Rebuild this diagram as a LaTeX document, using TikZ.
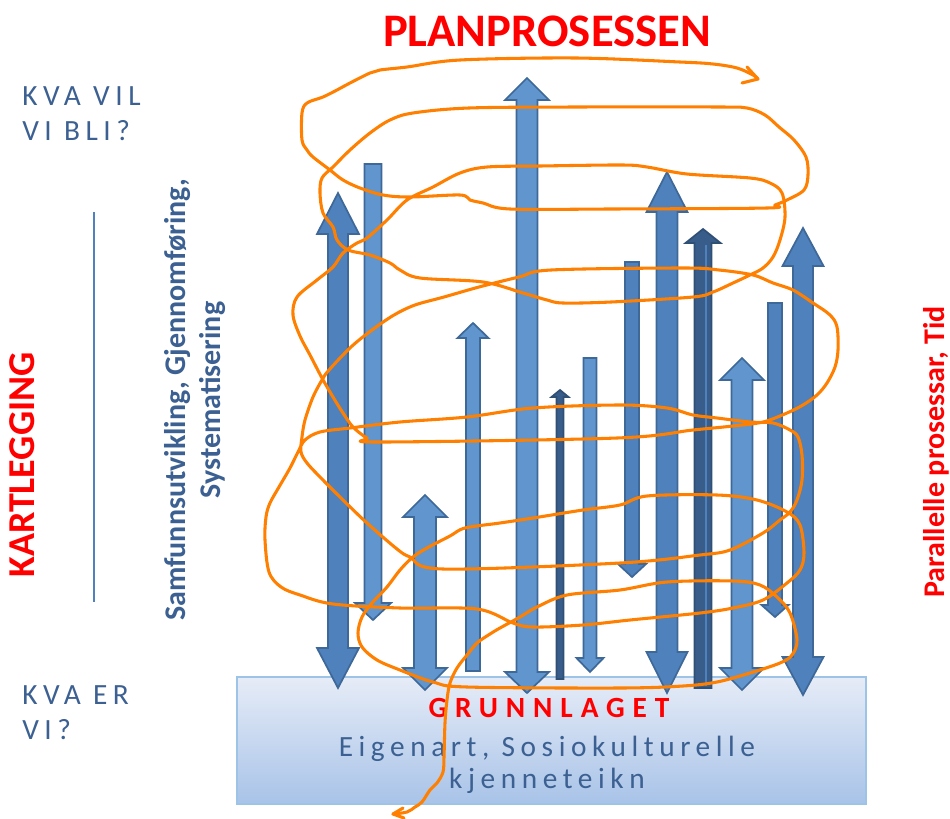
\documentclass[tikz,border=0pt]{standalone}
\usepackage{fontspec}
\setmainfont{Carlito}
\newfontfamily\spaceA[LetterSpace=19]{Carlito}
\newfontfamily\spaceB[LetterSpace=27]{Carlito}
\definecolor{bmed}{RGB}{79,129,189}
\definecolor{blight}{RGB}{96,150,205}
\definecolor{bdark}{RGB}{56,93,138}
\definecolor{bedge}{RGB}{62,104,152}
\definecolor{txtblue}{RGB}{59,96,145}
\definecolor{orng}{RGB}{255,128,0}
\definecolor{boxtop}{RGB}{230,236,247}
\definecolor{boxbot}{RGB}{168,195,232}
\definecolor{boxedge}{RGB}{157,195,230}
\tikzset{
  arrowshape/.style={draw=bedge, line width=1.3pt, fill=bmed},
  lightarr/.style={arrowshape, fill=blight},
  darkarr/.style={arrowshape, fill=bdark, draw=bdark!85!black},
  scribble/.style={orng, line width=2.3pt, line cap=round, line join=round},
  sidetext/.style={font=\spaceA\fontsize{22}{26}\selectfont, text=txtblue, anchor=base west, inner sep=0pt},
}
% #2 cx, #3 half shaft, #4 top y, #5 top head len, #6 top head half width,
% #7 bottom y, #8 bottom head len, #9 bottom head half width
\newcommand\varrow[9][]{%
  \draw[arrowshape,#1] (#2,#4) -- ({#2+#6},{#4+#5}) -- ({#2+#3},{#4+#5}) -- ({#2+#3},{#7-#8}) -- ({#2+#9},{#7-#8}) -- (#2,#7) -- ({#2-#9},{#7-#8}) -- ({#2-#3},{#7-#8}) -- ({#2-#3},{#4+#5}) -- ({#2-#6},{#4+#5}) -- cycle;}
\begin{document}
\begin{tikzpicture}[x=0.75pt,y=-0.75pt]
\useasboundingbox (0,0) rectangle (950,818);
% base box
\shade[top color=boxtop, bottom color=boxbot] (237,677) rectangle (866,804);
\draw[boxedge, line width=1.3pt] (237,677) rectangle (866,804);
% left vertical line
\draw[bmed, line width=1.2pt] (94,212) -- (94,602);
% arrows
\varrow{338}{10}{193}{41}{21}{688}{40}{21}
\varrow[lightarr]{373}{8.5}{164}{0}{8.49}{620}{17}{18}
\varrow[lightarr]{425}{11}{495}{22}{22}{690}{22}{22}
\varrow[lightarr]{473}{7}{323}{15}{15.5}{671}{0}{6.99}
\varrow[lightarr]{527}{10.5}{78}{22}{22}{693}{21}{22}
\varrow[darkarr]{560}{3.5}{390}{7}{8.5}{679}{0}{3.49}
\varrow[lightarr]{590}{6.5}{358}{0}{6.49}{672}{14}{13.5}
\varrow{632}{7}{262}{0}{6.99}{577}{13}{14}
\varrow{667}{10.5}{172}{40}{20.5}{693}{41}{20.5}
\varrow[darkarr]{703}{8.5}{229}{14}{17.5}{688}{0}{8.49}
\draw[bmed, line width=1.5pt] (706,245) -- (706,686);
\varrow[lightarr]{742}{10.5}{358}{22}{22}{690}{22}{22}
\varrow{775}{7}{303}{0}{6.99}{617}{12}{13.5}
\varrow{803}{10}{228}{38}{20.5}{695}{38}{20.5}
% texts
\node[font=\bfseries\fontsize{35}{40}\selectfont, text=red, anchor=base, inner sep=0pt] (title) at (547,46) {PLANPROSESSEN};
\node[sidetext] (kva1) at (22,105) {KVA VIL};
\node[sidetext] (kva2) at (22,140) {VI BLI?};
\node[sidetext] (kva3) at (22,704) {KVA ER};
\node[sidetext] (kva4) at (22,739) {VI?};
\node[font=\bfseries\fontsize{28.5}{30}\selectfont, text=red, rotate=90, inner sep=0pt] (kart) at (22,465) {KARTLEGGING};
\node[font=\bfseries\fontsize{22.5}{26}\selectfont, text=txtblue, rotate=90, align=center, inner sep=0pt] (samf) at (195,400) {Samfunnsutvikling, Gjennomføring,\\Systematisering};
\node[font=\bfseries\fontsize{22.5}{26}\selectfont, text=red, rotate=90, inner sep=0pt] (para) at (936,452) {Parallelle prosessar, Tid};
\node[font=\spaceB\bfseries\fontsize{22}{26}\selectfont, text=red, anchor=base, inner sep=0pt] (grunn) at (549,717) {GRUNNLAGET};
\node[font=\spaceA\fontsize{22}{26}\selectfont, text=txtblue, anchor=base, inner sep=0pt] (eig1) at (547,756) {Eigenart, Sosiokulturelle};
\node[font=\spaceA\fontsize{22}{26}\selectfont, text=txtblue, anchor=base, inner sep=0pt] (eig2) at (547,788) {kjenneteikn};
% orange scribble
\draw[scribble] plot[smooth, tension=0.55] coordinates {
(393,814) (407,812) (415,807) (422,802) (430,790) (437,783) (443,772) (444,757) (445,723) (447,700) (450,683) (457,668) (467,655) (477,643) (490,634) (500,628) (520,617) (537,607) (567,595) (620,590) (667,582) (733,581) (760,585) (777,597) (790,613) (797,640) (792,655) (780,663) (750,673) (717,682) (683,686) (620,688) (467,687) (433,682) (400,670) (377,660) (362,647) (358,633) (362,617) (372,603) (387,587) (400,570) (413,557) (427,548) (450,536) (465,528) (500,523) (533,518) (583,510) (620,505) (647,496) (717,495) (757,500) (787,512) (800,525) (804,553) (800,570) (787,583) (763,600) (733,608) (700,613) (630,620) (583,625) (533,627) (513,623) (477,609) (400,608) (333,604) (300,595) (281,587) (269,572) (265,540) (266,517) (270,503) (279,487) (290,468) (298,452) (305,440) (320,432) (350,428) (400,422) (467,417) (533,408) (620,405) (667,408) (693,415) (717,418) (750,422) (773,423) (790,430) (798,437) (802,455) (802,480) (797,500) (790,512) (780,520) (763,533) (730,550) (700,555) (620,563) (443,569) (410,557) (397,549) (367,523) (343,500) (320,477) (307,463) (301,452) (302,437) (305,420) (313,397) (322,380) (329,370) (351,347) (372,330) (394,315) (415,305) (444,297) (479,287) (519,277) (551,270) (683,268) (719,270) (753,275) (773,283) (793,290) (813,303) (830,315) (837,327) (838,350) (835,367) (827,383) (817,395) (803,405) (787,413) (763,422) (733,426) (693,430) (617,438) (380,442) (367,438) (353,427) (343,413) (333,397) (322,378) (310,355) (300,336) (293,315) (297,297) (317,280) (333,267) (343,253) (357,243) (367,238) (387,220) (407,200) (433,187) (460,173) (487,167) (540,166) (622,165) (647,167) (687,174) (750,178) (770,183) (782,193) (785,217) (780,240) (773,257) (763,268) (750,275) (733,283) (713,292) (693,297) (611,302) (563,303) (547,300) (523,293) (483,282) (420,278) (400,270) (390,263) (370,255) (348,250) (337,240) (333,227) (323,213) (320,193) (322,178) (333,167) (350,150) (370,133) (390,120) (413,113) (469,108) (576,107) (719,107) (747,108) (765,115) (779,127) (794,140) (806,157) (808,175) (804,190) (787,200) (775,205) (767,208) (610,209) (510,209) (483,203) (470,200) (460,195) (410,197) (383,195) (360,188) (343,180) (330,170) (313,157) (307,150) (302,140) (302,113) (307,103) (323,97) (337,90) (350,83) (370,73) (380,70) (407,67) (460,60) (576,58) (680,62) (713,64) (737,68) (753,75) (758,79)};
\draw[scribble] (747,67) -- (758,79) -- (742,83);
\draw[scribble] (403,808) -- (393,814) -- (404,818);
\end{tikzpicture}
\end{document}
